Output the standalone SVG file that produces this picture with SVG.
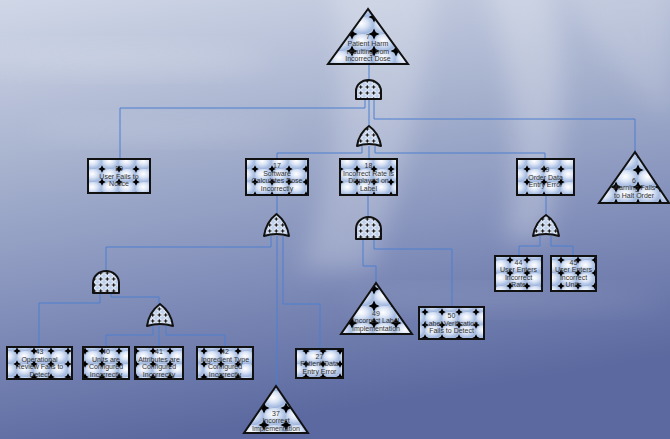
<svg xmlns="http://www.w3.org/2000/svg" width="670" height="439" viewBox="0 0 670 439">
<defs>
<linearGradient id="bg" x1="0" y1="0" x2="0.25" y2="1">
<stop offset="0" stop-color="#d0d7e7"/>
<stop offset="0.35" stop-color="#a8b3cf"/>
<stop offset="0.7" stop-color="#7f8cb8"/>
<stop offset="1" stop-color="#5b69a0"/>
</linearGradient>
<filter id="blur" x="-50%" y="-50%" width="200%" height="200%"><feGaussianBlur stdDeviation="12"/></filter>
<radialGradient id="bub" cx="0.42" cy="0.38" r="0.6">
<stop offset="0" stop-color="#ffffff"/>
<stop offset="0.45" stop-color="#dde6f6"/>
<stop offset="1" stop-color="#9fb6de"/>
</radialGradient>
<path id="star" d="M0,-3.8 L1.3,-1.3 L3.8,0 L1.3,1.3 L0,3.8 L-1.3,1.3 L-3.8,0 L-1.3,-1.3Z"/>
<path id="starL" d="M0,-5.5 L1.8,-1.8 L5.5,0 L1.8,1.8 L0,5.5 L-1.8,1.8 L-5.5,0 L-1.8,-1.8Z"/>
<pattern id="pb" patternUnits="userSpaceOnUse" width="17" height="13">
<rect width="17" height="13" fill="#b3c6e6"/>
<ellipse cx="8.5" cy="6.5" rx="8.3" ry="6.6" fill="url(#bub)"/>
<use href="#star" x="0" y="0"/><use href="#star" x="17" y="0"/><use href="#star" x="0" y="13"/><use href="#star" x="17" y="13"/>
</pattern>
<pattern id="pt" patternUnits="userSpaceOnUse" width="22" height="17">
<rect width="22" height="17" fill="#b3c6e6"/>
<ellipse cx="11" cy="8.5" rx="10.8" ry="8.6" fill="url(#bub)"/>
<use href="#starL" x="0" y="0"/><use href="#starL" x="22" y="0"/><use href="#starL" x="0" y="17"/><use href="#starL" x="22" y="17"/>
</pattern>
<pattern id="pg" patternUnits="userSpaceOnUse" width="6.5" height="6">
<rect width="6.5" height="6" fill="#bfd0ec"/>
<circle cx="3.25" cy="3" r="2.8" fill="#e6edf9"/>
<path d="M3.25,1.3 V4.7 M1.5,3 H5" stroke="#000" stroke-width="1"/>
</pattern>
</defs>
<style>
.box{fill:url(#pb);stroke:#111;stroke-width:2}
.tri{fill:url(#pt);stroke:#111;stroke-width:2;stroke-linejoin:miter}
.gate{fill:url(#pg);stroke:#111;stroke-width:2;stroke-linejoin:round}
.t{font-family:"Liberation Sans",Arial,sans-serif;font-size:7px;fill:#333;text-anchor:middle}
#connectors path{fill:none;stroke:#4d7fcf;stroke-width:1}
</style>
<rect width="670" height="439" fill="url(#bg)"/>
<g id="background-streaks">
<path d="M330,-20 C350,80 340,160 300,270 L370,270 C410,160 425,80 435,-20 Z" fill="#fff" opacity="0.22" filter="url(#blur)"/>
<path d="M485,-20 C505,60 525,130 505,240 L545,240 C570,130 565,60 550,-20 Z" fill="#fff" opacity="0.25" filter="url(#blur)"/>
<path d="M560,-20 L670,-20 L670,120 C640,90 600,60 560,-20 Z" fill="#fff" opacity="0.15" filter="url(#blur)"/>
<ellipse cx="120" cy="60" rx="150" ry="12" fill="#fff" opacity="0.18" filter="url(#blur)"/>
<ellipse cx="160" cy="130" rx="130" ry="10" fill="#fff" opacity="0.14" filter="url(#blur)"/>
<ellipse cx="500" cy="300" rx="160" ry="10" fill="#fff" opacity="0.1" filter="url(#blur)"/>
</g>
<g id="connectors">
<path d="M369,64 V80"/>
<path d="M365,99 V108 H120 V159"/>
<path d="M374,99 V119 H635 V152"/>
<path d="M369,99 V126"/>
<path d="M362,146 V153 H277 V159"/>
<path d="M369,146 V159"/>
<path d="M375,146 V153 H545 V159"/>
<path d="M277,195 V214"/>
<path d="M271,236 V247 H106 V271"/>
<path d="M277,236 V386"/>
<path d="M283,236 V304 H320 V349"/>
<path d="M368,195 V217"/>
<path d="M363,239 V266 H376 V283"/>
<path d="M374,239 V249 H452 V307"/>
<path d="M546,195 V215"/>
<path d="M540,236 V246 H519 V256"/>
<path d="M551,236 V246 H573 V256"/>
<path d="M100,293 V303 H39 V347"/>
<path d="M111,293 V297 H159 V304"/>
<path d="M153,326 V335 H106 V347"/>
<path d="M159,326 V347"/>
<path d="M166,326 V335 H225 V347"/>
</g>
<g id="node-7"><polygon class="tri" points="368,9 328,64 408,64"/>
<text class="t" x="368" y="38.5">7</text><text class="t" x="368" y="46">Patient Harm</text><text class="t" x="368" y="53.5">resulting from</text><text class="t" x="368" y="61">Incorrect Dose</text></g>
<g id="gate-and-1"><path class="gate" d="M356,99 V91 A12.5,11 0 0 1 381,91 V99 Z"/></g>
<g id="gate-or-2"><path class="gate" d="M357,146 Q359,133 369,126 Q379,133 381,146 Q369,142 357,146 Z"/></g>
<g id="node-10"><rect class="box" x="88" y="159" width="62" height="34"/>
<text class="t" x="119" y="171">10</text><text class="t" x="119" y="178.5">User Fails to</text><text class="t" x="119" y="186">Notice</text></g>
<g id="node-17"><rect class="box" x="246" y="159" width="62" height="36"/>
<text class="t" x="277" y="168.2">17</text><text class="t" x="277" y="175.7">Software</text><text class="t" x="277" y="183.2">Calculates Dose</text><text class="t" x="277" y="190.7">Incorrectly</text></g>
<g id="node-18"><rect class="box" x="340" y="159" width="57" height="36"/>
<text class="t" x="368.5" y="168.2">18</text><text class="t" x="368.5" y="175.7">Incorrect Rate is</text><text class="t" x="368.5" y="183.2">Displayed on</text><text class="t" x="368.5" y="190.7">Label</text></g>
<g id="node-19"><rect class="box" x="517" y="159" width="57" height="36"/>
<text class="t" x="545.5" y="172">19</text><text class="t" x="545.5" y="179.5">Order Data</text><text class="t" x="545.5" y="187">Entry Error</text></g>
<g id="node-6"><polygon class="tri" points="635,152 599,203 669,203"/>
<text class="t" x="634" y="182.5">6</text><text class="t" x="634" y="190">Warning Fails</text><text class="t" x="634" y="197.5">to Halt Order</text></g>
<g id="gate-or-3"><path class="gate" d="M264,236 Q266,222 276.5,214 Q287,222 289,236 Q276.5,232 264,236 Z"/></g>
<g id="gate-and-4"><path class="gate" d="M356,239 V229 A12.5,12 0 0 1 381,229 V239 Z"/></g>
<g id="gate-or-5"><path class="gate" d="M533,236 Q535,222 546,215 Q557,222 559,236 Q546,232 533,236 Z"/></g>
<g id="node-44"><rect class="box" x="495" y="256" width="47" height="35"/>
<text class="t" x="518.5" y="264.7">44</text><text class="t" x="518.5" y="272.2">User Enters</text><text class="t" x="518.5" y="279.7">Incorrect</text><text class="t" x="518.5" y="287.2">Rate</text></g>
<g id="node-45"><rect class="box" x="551" y="256" width="45" height="35"/>
<text class="t" x="573.5" y="264.7">45</text><text class="t" x="573.5" y="272.2">User Enters</text><text class="t" x="573.5" y="279.7">Incorrect</text><text class="t" x="573.5" y="287.2">Units</text></g>
<g id="gate-and-6"><path class="gate" d="M93,293 V283 A13,12 0 0 1 119,283 V293 Z"/></g>
<g id="gate-or-7"><path class="gate" d="M147,326 Q149,312 160,304 Q171,312 173,326 Q160,322 147,326 Z"/></g>
<g id="node-49"><polygon class="tri" points="376,283 341,334 412,334"/>
<text class="t" x="376" y="315.5">49</text><text class="t" x="376" y="323">Incorrect Label</text><text class="t" x="376" y="330.5">Implementation</text></g>
<g id="node-50"><rect class="box" x="419" y="307" width="65" height="32"/>
<text class="t" x="451.5" y="318">50</text><text class="t" x="451.5" y="325.5">Label Verification</text><text class="t" x="451.5" y="333">Fails to Detect</text></g>
<g id="node-43"><rect class="box" x="7" y="347" width="65" height="32"/>
<text class="t" x="39.5" y="354.2">43</text><text class="t" x="39.5" y="361.7">Operational</text><text class="t" x="39.5" y="369.2">Review Fails to</text><text class="t" x="39.5" y="376.7">Detect</text></g>
<g id="node-40"><rect class="box" x="83" y="347" width="46" height="32"/>
<text class="t" x="106" y="354.2">40</text><text class="t" x="106" y="361.7">Units are</text><text class="t" x="106" y="369.2">Configured</text><text class="t" x="106" y="376.7">Incorrectly</text></g>
<g id="node-41"><rect class="box" x="135" y="347" width="48" height="32"/>
<text class="t" x="159" y="354.2">41</text><text class="t" x="159" y="361.7">Attributes are</text><text class="t" x="159" y="369.2">Configured</text><text class="t" x="159" y="376.7">Incorrectly</text></g>
<g id="node-42"><rect class="box" x="197" y="347" width="56" height="32"/>
<text class="t" x="225" y="354.2">42</text><text class="t" x="225" y="361.7">Ingredient Type</text><text class="t" x="225" y="369.2">Configured</text><text class="t" x="225" y="376.7">Incorrectly</text></g>
<g id="node-27"><rect class="box" x="296" y="349" width="47" height="29"/>
<text class="t" x="319.5" y="358.5">27</text><text class="t" x="319.5" y="366">Patient Data</text><text class="t" x="319.5" y="373.5">Entry Error</text></g>
<g id="node-37"><polygon class="tri" points="276,386 244,433 308,433"/>
<text class="t" x="276" y="415.5">37</text><text class="t" x="276" y="423">Incorrect</text><text class="t" x="276" y="430.5">Implementation</text></g>
</svg>
